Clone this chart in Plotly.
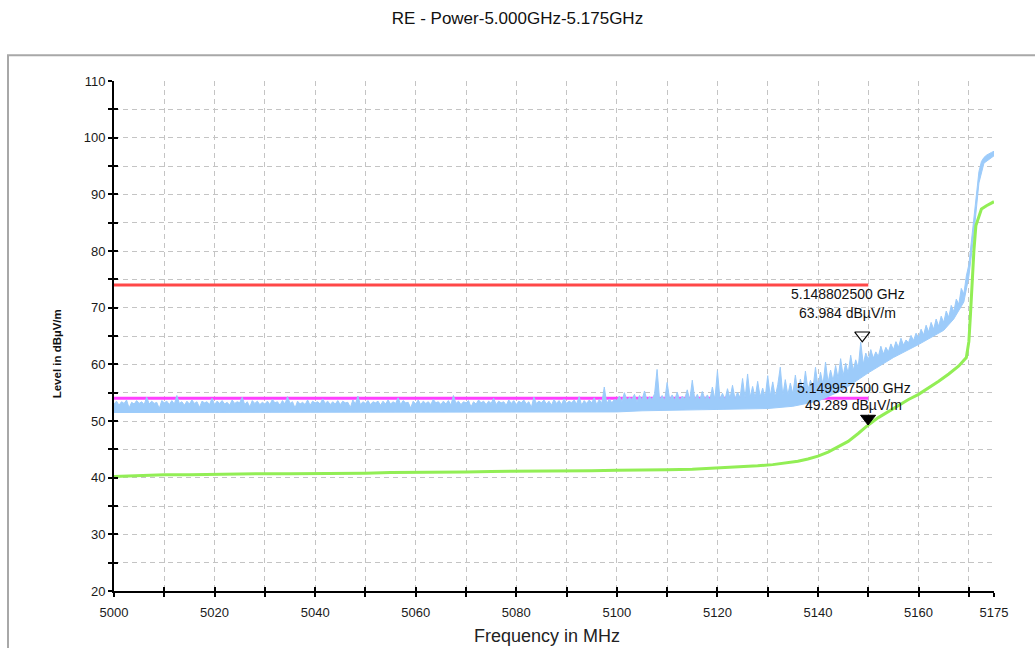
import numpy as np
import plotly.graph_objects as go

# ---- measured data -------------------------------------------------------
# Peak trace, 0.5 MHz steps from 5000 to 5175 MHz (dBuV/m)
peak_start, peak_step = 5000.0, 0.5
peak_level = [
    53.0, 53.5, 52.8, 53.4, 53.1, 53.7, 52.3, 53.3, 53.0, 53.6,
    53.1, 53.4, 52.9, 54.2, 53.0, 53.5, 53.1, 53.3, 52.2, 53.6,
    53.2, 53.5, 52.9, 53.6, 53.0, 54.5, 53.1, 53.4, 52.8, 53.5,
    53.0, 53.7, 53.1, 53.4, 52.4, 53.5, 53.2, 53.4, 52.9, 54.0,
    52.9, 53.5, 53.1, 53.6, 53.0, 53.3, 52.8, 53.7, 53.1, 53.4,
    53.2, 54.2, 52.9, 53.4, 52.5, 53.6, 53.1, 53.5, 52.9, 53.3,
    53.0, 53.5, 52.9, 53.8, 53.2, 53.4, 52.8, 53.6, 53.0, 54.3,
    53.1, 53.4, 52.3, 53.5, 53.0, 53.3, 52.9, 53.7, 52.8, 53.5,
    53.2, 53.4, 53.0, 53.9, 53.1, 53.5, 52.9, 53.4, 53.0, 53.6,
    52.9, 53.5, 53.2, 53.3, 52.4, 53.7, 53.0, 54.4, 52.9, 53.4,
    53.1, 53.6, 52.9, 53.4, 53.2, 53.5, 52.8, 53.5, 53.0, 53.7,
    53.0, 53.4, 53.1, 54.1, 52.9, 53.6, 53.2, 53.3, 52.3, 53.5,
    53.0, 53.7, 52.9, 53.5, 53.1, 53.4, 52.9, 53.8, 53.2, 53.4,
    52.9, 53.5, 53.0, 53.6, 52.8, 54.5, 53.1, 53.5, 52.9, 53.4,
    53.2, 53.6, 52.5, 53.4, 53.0, 53.7, 53.2, 53.5, 52.9, 53.5,
    53.1, 54.0, 52.9, 53.5, 53.2, 53.4, 52.8, 53.7, 53.1, 53.6,
    52.9, 53.5, 53.2, 53.7, 53.0, 53.4, 52.4, 54.2, 53.1, 53.5,
    53.2, 53.7, 53.0, 53.5, 52.8, 53.8, 53.1, 53.6, 52.9, 53.9,
    53.1, 53.5, 53.2, 53.7, 53.0, 54.3, 52.8, 53.6, 53.1, 53.7,
    53.2, 54.1, 52.9, 53.8, 53.1, 56.0, 53.0, 53.9, 53.2, 53.8,
    53.6, 54.4, 53.4, 55.0, 53.7, 54.2, 53.8, 54.7, 53.3, 54.5,
    53.7, 55.3, 53.6, 54.3, 53.8, 54.8, 59.1, 53.7, 54.5, 53.6,
    56.8, 53.8, 54.6, 53.7, 55.1, 53.6, 54.4, 53.9, 55.5, 53.7,
    57.2, 53.8, 54.7, 53.7, 55.2, 53.9, 54.6, 53.7, 56.0, 53.8,
    58.9, 53.9, 54.9, 53.8, 55.7, 54.0, 56.3, 53.9, 55.1, 54.1,
    57.5, 54.0, 58.3, 54.2, 56.1, 54.1, 57.0, 54.3, 55.8, 54.2,
    58.0, 54.4, 56.9, 54.3, 56.4, 59.5, 54.5, 57.3, 54.6, 56.7,
    54.8, 58.1, 55.0, 57.4, 55.3, 58.8, 55.5, 57.2, 55.8, 59.5,
    56.0, 58.6, 56.4, 60.4, 56.8, 59.0, 57.1, 59.8, 57.5, 61.0,
    58.0, 60.2, 58.4, 61.6, 58.9, 60.8, 59.4, 63.9, 60.0, 62.0,
    60.8, 62.6, 61.1, 62.2, 61.4, 63.2, 61.8, 63.0, 62.2, 63.6,
    62.6, 64.0, 63.0, 64.6, 63.4, 64.3, 63.8, 65.1, 64.2, 65.5,
    64.7, 66.2, 65.2, 66.9, 65.7, 67.4, 66.2, 68.0, 66.7, 68.5,
    67.4, 69.4, 68.3, 70.4, 69.3, 71.5, 70.6, 73.4, 72.4, 75.6,
    77.6, 81.5, 85.5, 89.5, 94.0, 95.8, 96.5, 96.9, 97.2, 97.4,
    97.6,
]
peak_freq = peak_start + peak_step * np.arange(len(peak_level))

# Lower edge of the peak trace's noise band
floor_freq = [5000, 5100, 5105, 5130, 5135, 5140, 5145, 5150, 5155, 5160,
              5165, 5167, 5169, 5170, 5171, 5172, 5173, 5175]
floor_level = [51.5, 51.6, 51.8, 52.2, 52.6, 53.5, 55.5, 58.5, 61.2, 63.5,
               66.0, 68.0, 71.0, 75.5, 83.0, 92.0, 95.5, 96.8]

# Average trace
avg_freq = [5000, 5005, 5010, 5015, 5020, 5025, 5030, 5035, 5040, 5045,
            5050, 5055, 5060, 5065, 5070, 5075, 5080, 5085, 5090, 5095,
            5100, 5105, 5110, 5115, 5120, 5125, 5128, 5131, 5134, 5136,
            5138, 5140, 5142, 5144, 5146, 5148, 5150, 5152, 5154, 5156,
            5158, 5160, 5162, 5164, 5166, 5168, 5169.5, 5170, 5170.3,
            5170.6, 5171, 5171.4, 5172, 5172.5, 5173.5, 5175]
avg_level = [40.2, 40.4, 40.5, 40.5, 40.6, 40.6, 40.7, 40.7, 40.7, 40.8,
             40.8, 40.9, 40.9, 41.0, 41.0, 41.1, 41.1, 41.1, 41.2, 41.2,
             41.3, 41.3, 41.4, 41.5, 41.7, 41.9, 42.1, 42.3, 42.6, 42.9,
             43.3, 43.8, 44.5, 45.4, 46.4, 47.8, 49.3, 50.6, 51.7, 52.8,
             53.8, 54.7, 55.8, 57.0, 58.3, 59.7, 61.2, 64.0, 68.5,
             74.0, 80.0, 84.5, 86.3, 87.4, 88.0, 88.7]

# Limit lines
limit_freq = [5000, 5150]
peak_limit = [74.0, 74.0]
avg_limit = [54.0, 54.0]

# Marker readouts (GHz, dBuV/m)
mk_peak = (5.148802500, 63.984)
mk_avg = (5.149957500, 49.289)

# Axis ticks
x_major = [5000, 5020, 5040, 5060, 5080, 5100, 5120, 5140, 5160, 5175]
x_minor = [5010, 5030, 5050, 5070, 5090, 5110, 5130, 5150, 5170]
y_major = [20, 30, 40, 50, 60, 70, 80, 90, 100, 110]
y_minor = [25, 35, 45, 55, 65, 75, 85, 95, 105]

# ---- figure --------------------------------------------------------------
FONT = "Liberation Sans, Arial, sans-serif"
GRID = "#c4c4c4"
BLUE = "#9ccbfa"
fig = go.Figure()

fig.add_trace(go.Scatter(x=limit_freq, y=avg_limit, mode="lines",
                         line=dict(color="#ff40ff", width=3), hoverinfo="skip"))
fig.add_trace(go.Scatter(x=limit_freq, y=peak_limit, mode="lines",
                         line=dict(color="#ff4848", width=3), hoverinfo="skip"))
fig.add_trace(go.Scatter(x=floor_freq, y=floor_level, mode="lines",
                         line=dict(color=BLUE, width=1), hoverinfo="skip"))
fig.add_trace(go.Scatter(x=peak_freq, y=peak_level, mode="lines",
                         fill="tonexty", fillcolor=BLUE,
                         line=dict(color=BLUE, width=1)))
fig.add_trace(go.Scatter(x=avg_freq, y=avg_level, mode="lines",
                         line=dict(color="#92ee55", width=3)))

# marker symbols: triangles pointing down, tip resting on the reading
fig.add_trace(go.Scatter(
    x=[mk_peak[0] * 1000], y=[mk_peak[1]], mode="markers",
    marker=dict(symbol="triangle-up-open", angle=180, standoff=6.5, size=13,
                color="black", line=dict(color="black", width=1.2))))
fig.add_trace(go.Scatter(
    x=[mk_avg[0] * 1000], y=[mk_avg[1]], mode="markers",
    marker=dict(symbol="triangle-up", angle=180, standoff=6.5, size=13,
                color="black", line=dict(color="black", width=1))))

# invisible carrier for the inner tick axes
fig.add_trace(go.Scatter(x=[5000], y=[20], xaxis="x2", yaxis="y2",
                         mode="markers", marker=dict(size=1, opacity=0),
                         hoverinfo="skip"))

for (f, lv) in (mk_peak, mk_avg):
    fx = f * 1000
    fig.add_annotation(x=fx, y=lv, text=f"{f:.9f} GHz", showarrow=False,
                       xshift=-14, yshift=(48 if lv > 60 else 37),
                       font=dict(family=FONT, size=14, color="#111"))
    fig.add_annotation(x=fx, y=lv, text=f"{lv:.3f} dBµV/m", showarrow=False,
                       xshift=-15, yshift=(29 if lv > 60 else 20),
                       font=dict(family=FONT, size=14, color="#111"))

axis_common = dict(showline=True, linecolor="black", linewidth=2,
                   ticks="outside", ticklen=4, tickwidth=2, tickcolor="black",
                   zeroline=False, griddash="5px,4px", gridcolor=GRID,
                   gridwidth=1, showgrid=True,
                   tickfont=dict(family=FONT, size=13, color="#1a1a1a"))

fig.update_layout(
    width=1035, height=648,
    margin=dict(l=114, r=41, t=81, b=57),
    paper_bgcolor="white", plot_bgcolor="white",
    showlegend=False,
    title=dict(text="RE - Power-5.000GHz-5.175GHz", x=0.5, xref="container",
               xanchor="center", y=1 - 18 / 648, yref="container",
               yanchor="middle",
               font=dict(family=FONT, size=17, color="#111")),
    xaxis=dict(range=[5000, 5175], tickmode="array", tickvals=x_major,
               ticktext=[str(v) for v in x_major], ticklabelstandoff=4,
               minor=dict(tickmode="array", tickvals=x_minor, ticks="outside",
                          ticklen=4, tickwidth=2, tickcolor="black",
                          showgrid=True, gridcolor=GRID, griddash="5px,4px",
                          gridwidth=1),
               **axis_common),
    yaxis=dict(range=[20, 110], tickmode="array", tickvals=y_major,
               minor=dict(tickmode="array", tickvals=y_minor, ticks="outside",
                          ticklen=4, tickwidth=2, tickcolor="black",
                          showgrid=True, gridcolor=GRID, griddash="5px,4px",
                          gridwidth=1),
               **axis_common),
    xaxis2=dict(overlaying="x", anchor="y2", range=[5000, 5175],
                tickmode="array", tickvals=x_major + x_minor, ticks="inside",
                ticklen=4, tickwidth=2, tickcolor="black",
                showticklabels=False, showgrid=False, showline=False,
                zeroline=False),
    yaxis2=dict(overlaying="y", anchor="x2", range=[20, 110],
                tickmode="array", tickvals=y_major + y_minor, ticks="inside",
                ticklen=4, tickwidth=2, tickcolor="black",
                showticklabels=False, showgrid=False, showline=False,
                zeroline=False),
)

# outer frame
fig.add_shape(type="rect", xref="paper", yref="paper",
              x0=(8 - 114) / 880, x1=(1045 - 114) / 880,
              y0=(590.7 - 660) / 510, y1=(590.7 - 55) / 510,
              line=dict(color="#a8a8a8", width=2), layer="below")

fig.add_annotation(text="Frequency in MHz", xref="paper", yref="paper",
                   x=(547 - 114) / 880, y=(590.7 - 636) / 510,
                   showarrow=False, xanchor="center", yanchor="middle",
                   font=dict(family=FONT, size=18, color="#222"))
fig.add_annotation(text="<b>Level in dBµV/m</b>", xref="paper", yref="paper",
                   x=(57 - 114) / 880, y=(590.7 - 354) / 510, textangle=-90,
                   showarrow=False, xanchor="center", yanchor="middle",
                   font=dict(family=FONT, size=11.5, color="#111"))

fig.write_html("out.html")
